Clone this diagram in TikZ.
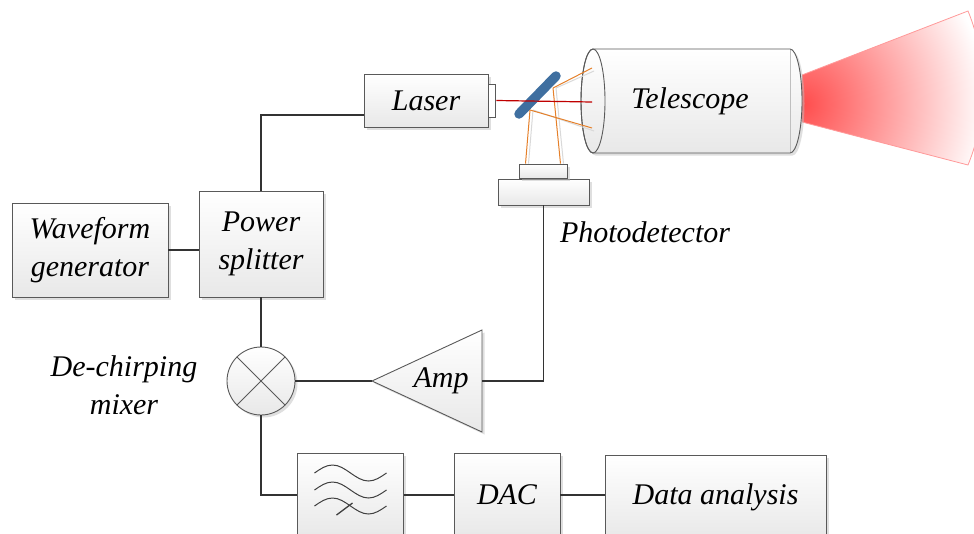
\documentclass[tikz,border=0pt]{standalone}
\usepackage{fontspec}
\setmainfont{Liberation Serif}
\usetikzlibrary{positioning}
\usetikzlibrary{shadows}

\definecolor{mirrorblue}{HTML}{3F6FA0}
\definecolor{beamred}{HTML}{C00000}
\definecolor{rayorange}{HTML}{E5802A}

\begin{document}
\begin{tikzpicture}[
  x=1pt, y=-1pt,
  part/.style={
    draw=black!65,
    line width=0.9pt,
    top color=white,
    bottom color=black!9,
    drop shadow={shadow xshift=2.5pt, shadow yshift=-2.5pt, fill=black!25, opacity=0.5}
  },
  box/.style={
    part,
    rectangle,
    inner sep=0pt,
    align=center,
    font=\fontsize{30}{38}\selectfont\itshape
  },
  lbl/.style={font=\fontsize{30}{38}\selectfont\itshape, align=center},
  wire/.style={draw=black!80, line width=1.3pt},
  ray/.style={rayorange, line width=1pt},
  raysh/.style={black!15, line width=1pt}
]
\useasboundingbox (0,0) rectangle (974,533);

% Telescope and outgoing beam
\begin{scope}
  \clip (802,75) -- (968,11) .. controls (988,60) and (988,116) .. (968,165) -- (802,122) -- cycle;
  \shade[inner color=red!70, outer color=white] (802,104) circle (185);
\end{scope}
\draw[red!40, line width=0.8pt] (802,75) -- (968,11) .. controls (988,60) and (988,116) .. (968,165) -- (802,122);

\path[part] (593,49) -- (790,49) arc[start angle=-90, end angle=90, x radius=12, y radius=52]
  -- (593,153) arc[start angle=90, end angle=270, x radius=12, y radius=52] -- cycle;
\draw[black!25, line width=1pt] (790,50) -- (790,152);
\draw[black!65, line width=0.9pt] (593,101) ellipse[x radius=12, y radius=52];
\node[lbl] (scope) at (690,101) {Telescope};

% Laser head
\node[box, minimum width=124pt, minimum height=53pt] (laser) at (426,100.5) {Laser};
\node[draw=black!65, line width=0.9pt, fill=white, inner sep=0pt,
      minimum width=7pt, minimum height=33pt, anchor=west] (tab) at (laser.east) {};

% Photodetector
\node[part, rectangle, inner sep=0pt, minimum width=91pt, minimum height=26pt] (pd) at (543.5,192) {};
\node[part, rectangle, inner sep=0pt, minimum width=48pt, minimum height=14pt, anchor=south] (pdhead) at (pd.north) {};
\node[lbl] (pdlbl) at (645,232) {Photodetector};

% Beam splitter and rays
\coordinate (hitA) at (530,110);
\coordinate (hitB) at (553,88);
\coordinate (lens) at (592,102);
\draw[raysh] ([xshift=3pt]hitA) -- ([xshift=-15pt]pdhead.north);
\draw[raysh] ([xshift=3pt]hitB) -- ([xshift=20pt]pdhead.north);
\draw[raysh] ([xshift=3pt]hitA) -- (594,131);
\draw[raysh] ([xshift=3pt]hitB) -- (594,71);
\draw[mirrorblue, line width=9.5pt, line cap=round] (519,114) -- (556,76);
\draw[ray] (hitA) -- ([xshift=-18pt]pdhead.north);
\draw[ray] (hitB) -- ([xshift=17pt]pdhead.north);
\draw[ray] (hitA) -- (592,128);
\draw[ray] (hitB) -- (592,68);
\draw[beamred, line width=1.2pt] (tab.east) -- (lens);

% Signal chain
\node[box, minimum width=156pt, minimum height=94pt] (wavegen) at (90,250) {Waveform\\generator};
\node[box, minimum width=124pt, minimum height=106pt] (splitter) at (261,244) {Power\\splitter};
\node[part, circle, inner sep=0pt, minimum size=68pt] (mixer) at (261,381) {};
\draw[black!65, line width=0.9pt] (mixer.north west) -- (mixer.south east);
\draw[black!65, line width=0.9pt] (mixer.north east) -- (mixer.south west);
\node[lbl] (mixlbl) at (124,385) {De-chirping\\mixer};

\coordinate (ampin) at (372,381);
\coordinate (ampout) at (482,381);
\path[part] (ampin) -- (482,330) -- (482,432) -- cycle;
\node[lbl] (amp) at (441,381) {Amp};

\node[box, minimum width=106pt, minimum height=84pt] (filter) at (350.5,495) {};
\foreach \dy in {-22,-5,11}
  \draw[black!75, line width=1pt] ([shift={(-36,\dy)}]filter.center)
    sin ++(18,-8) cos ++(18,8) sin ++(18,8) cos ++(18,-8);
\draw[black!75, line width=1.3pt] ([shift={(-14,20)}]filter.center) -- ([shift={(2,8)}]filter.center);
\node[box, minimum width=106pt, minimum height=84pt] (dac) at (507,495) {DAC};
\node[box, minimum width=221pt, minimum height=84pt] (analysis) at (715.5,497) {Data analysis};

% Connections
\draw[wire] (splitter.north) |- ([yshift=-14.5pt]laser.west);
\draw[wire] (wavegen.east) -- (wavegen.east -| splitter.west);
\draw[wire] (splitter.south) -- (mixer.north);
\draw[wire] (mixer.east) -- (ampin);
\draw[wire] (ampout) -| (pd.south);
\draw[wire] (mixer.south) |- (filter.west);
\draw[wire] (filter.east) -- (dac.west);
\draw[wire] (dac.east) -- (analysis.west |- dac.east);

\end{tikzpicture}
\end{document}
